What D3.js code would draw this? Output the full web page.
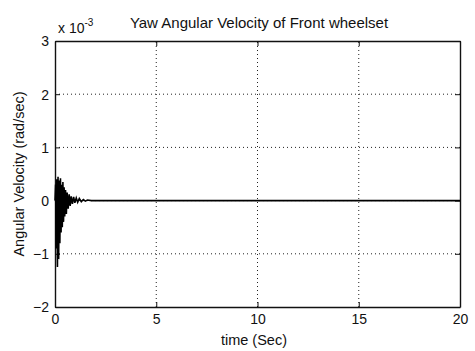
<!DOCTYPE html>
<html><head><meta charset="utf-8">
<script src="https://cdn.jsdelivr.net/npm/d3@7"></script>
<style>body{margin:0;background:#fff}svg{display:block}text{font-family:"Liberation Sans",Arial,sans-serif;fill:#111}</style>
</head><body>
<script>
// time (s)
const times = [0,0.03,0.06,0.09,0.12,0.15,0.18,0.21,0.24,0.27,0.30,0.33,0.36,0.39,0.42,0.45,0.48,0.52,0.56,0.60,0.65,0.70,0.75,0.80,0.86,0.92,0.98,1.05,1.12,1.2,1.3,1.4,1.5,1.6,1.8,20];
// yaw angular velocity (x 1e-3 rad/sec)
const values = [0,0.3,-0.9,0.4,-1.25,0.45,-1.1,0.38,-0.8,0.42,-0.6,0.3,-0.5,0.35,-0.4,0.25,-0.3,0.2,-0.25,0.15,-0.15,0.12,-0.1,0.08,-0.06,0.07,-0.04,0.05,-0.03,0.04,-0.02,0.02,-0.01,0.01,0,0];
const xTicks = [0,5,10,15,20];
const yTicks = [-2,-1,0,1,2,3];
const title = "Yaw Angular Velocity of Front wheelset";
const xLabel = "time (Sec)";
const yLabel = "Angular Velocity (rad/sec)";

const W=475,H=351;
const m={l:55,r:15,t:41,b:44};
const svg=d3.select("body").append("svg").attr("width",W).attr("height",H);
const x=d3.scaleLinear().domain([0,20]).range([m.l,W-m.r]);
const y=d3.scaleLinear().domain([-2,3]).range([H-m.b,m.t]);

// grid
const g=svg.append("g").attr("stroke","#222").attr("stroke-width",1).attr("stroke-dasharray","1,3");
xTicks.slice(1,-1).forEach(t=>g.append("line").attr("x1",x(t)).attr("x2",x(t)).attr("y1",y(-2)).attr("y2",y(3)));
yTicks.slice(1,-1).forEach(t=>g.append("line").attr("x1",x(0)).attr("x2",x(20)).attr("y1",y(t)).attr("y2",y(t)));

// axes
const fmt=d3.format("d");
const xa=svg.append("g").attr("transform",`translate(0,${y(-2)})`).call(d3.axisBottom(x).tickValues(xTicks).tickFormat(fmt).tickSizeInner(-5).tickSizeOuter(0).tickPadding(7));
const xt=svg.append("g").attr("transform",`translate(0,${y(3)})`).call(d3.axisTop(x).tickValues(xTicks).tickSizeInner(-5).tickSizeOuter(0).tickFormat(""));
const ya=svg.append("g").attr("transform",`translate(${x(0)},0)`).call(d3.axisLeft(y).tickValues(yTicks).tickFormat(fmt).tickSizeInner(-5).tickSizeOuter(0).tickPadding(6));
const yr=svg.append("g").attr("transform",`translate(${x(20)},0)`).call(d3.axisRight(y).tickValues(yTicks).tickSizeInner(-5).tickSizeOuter(0).tickFormat(""));
[xa,xt,ya,yr].forEach(a=>{a.selectAll("path").attr("stroke","#111").attr("stroke-width",1.4);a.selectAll("line").attr("stroke","#111");a.selectAll("text").style("font-size","14px").attr("fill","#111");});
ya.selectAll("text").attr("dy","0.35em");

// data line
const data=times.map((t,i)=>[t,values[i]]);
svg.append("path").datum(data).attr("fill","none").attr("stroke","#000").attr("stroke-width",1.6)
  .attr("d",d3.line().x(d=>x(d[0])).y(d=>y(d[1])));

// texts
svg.append("text").attr("x",259).attr("y",28).attr("text-anchor","middle").style("font-size","15px").text(title);
const e=svg.append("text").attr("x",58).attr("y",33).style("font-size","14px");
e.append("tspan").text("x 10");
e.append("tspan").attr("dy",-7).style("font-size","10px").text("-3");
svg.append("text").attr("x",254).attr("y",345).attr("text-anchor","middle").style("font-size","14.5px").text(xLabel);
svg.append("text").attr("transform",`translate(24,${(y(-2)+y(3))/2}) rotate(-90)`).attr("text-anchor","middle").style("font-size","14.5px").text(yLabel);
</script>
</body></html>
